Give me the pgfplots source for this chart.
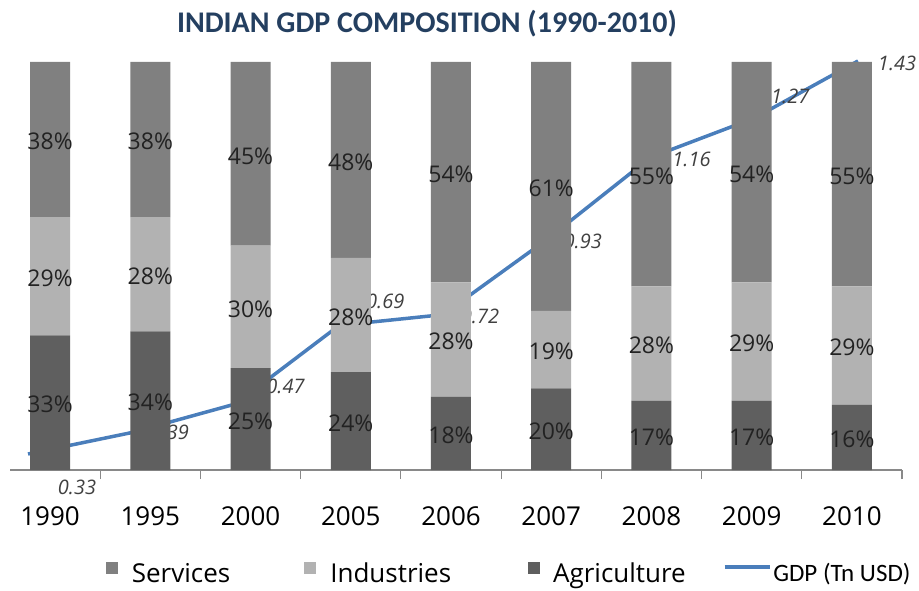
\documentclass[border=0pt]{standalone}
\usepackage{fontspec}
\usepackage{pgfplots}
\usepackage{pgfplotstable}
\pgfplotsset{compat=1.18}
\setmainfont{Open Sans}
\newfontfamily\carlito{Carlito}

\definecolor{services}{HTML}{808080}
\definecolor{industries}{HTML}{B2B2B2}
\definecolor{agri}{HTML}{5F5F5F}
\definecolor{axisgray}{HTML}{898989}
\definecolor{gdpblue}{HTML}{4A7EBB}
\definecolor{titleblue}{HTML}{243F60}
\definecolor{labeltext}{HTML}{222222}
\definecolor{gdptext}{HTML}{404040}

% sector shares of GDP, per cent
\pgfplotstableread{
idx agri ind serv
0 33 29 38
1 34 28 38
2 25 30 45
3 24 28 48
4 18 28 54
5 20 19 61
6 17 28 55
7 17 29 54
8 16 29 55
}\shares

% GDP in trillion USD, with label offsets (pt)
\pgfplotstableread{
idx gdp dx dy
0 0.33 49 -33
1 0.39 38 0
2 0.47 50 18
3 0.69 46 24
4 0.72 37 -2
5 0.93 36 -2
6 1.16 41 -2
7 1.27 36 22
8 1.43 39 -2
}\gdpdata

\pgfplotsset{
  sqlegend/.style={legend image code/.code={\fill[##1] (0pt,-1pt) rectangle (12pt,11pt);}},
}

\begin{document}
\begin{tikzpicture}
% GDP line on its own scale, drawn first so the bars sit over it
\begin{axis}[
  at={(10pt,120pt)}, anchor=south west,
  width=892pt, height=408pt, scale only axis,
  xmin=-0.1735, xmax=8.424, ymin=0.2852, ymax=1.4271,
  hide axis, clip=false,
]
\addplot[gdpblue, line width=3.5pt, no markers,
  point meta=explicit,
  visualization depends on={\thisrow{dx}\as\lblx},
  visualization depends on={\thisrow{dy}\as\lbly},
  nodes near coords={\pgfmathprintnumber[fixed,fixed zerofill,precision=2,assume math mode=true]{\pgfplotspointmeta}},
  every node near coord/.append style={anchor=center, xshift={\lblx}, yshift={\lbly},
    font=\itshape\fontsize{20}{20}\selectfont, text=gdptext},
] table[x=idx, y=gdp, meta=gdp] {\gdpdata};
\end{axis}

% stacked shares; labels sit in the middle of each segment
\begin{axis}[
  at={(10pt,120pt)}, anchor=south west,
  width=892pt, height=408pt, scale only axis,
  ybar stacked, bar width=40pt,
  xmin=-0.4, xmax=8.5, ymin=0, ymax=100,
  axis x line=bottom, axis y line=none,
  axis line style={draw=axisgray, line width=1.2pt, -},
  xtick={0,...,8},
  xticklabels={1990,1995,2000,2005,2006,2007,2008,2009,2010},
  major tick length=0pt,
  xticklabel style={font=\fontsize{26}{26}\selectfont, anchor=base, yshift=-55pt, text=black},
  extra x ticks={0.5,1.5,...,8.5},
  extra x tick labels={},
  extra x tick style={major tick length=9pt, tick align=outside, tick style={draw=axisgray, line width=1.2pt}},
  clip=false,
  point meta=explicit,
  nodes near coords={\pgfmathprintnumber[assume math mode=true]{\pgfplotspointmeta}\%},
  every node near coord/.append style={anchor=center, yshift=-2pt,
    font=\fontsize{23}{23}\selectfont, text=labeltext},
  reverse legend,
  legend columns=4,
  legend style={at={(0.5585,-0.2525)}, anchor=center, draw=none, fill=none,
    font=\fontsize{26}{26}\selectfont, inner sep=0pt,
    nodes={inner sep=0pt},
    /tikz/column 1/.style={column sep=14pt},
    /tikz/column 2/.style={column sep=74pt},
    /tikz/column 3/.style={column sep=14pt},
    /tikz/column 4/.style={column sep=77pt},
    /tikz/column 5/.style={column sep=13pt},
    /tikz/column 6/.style={column sep=37pt},
    /tikz/column 7/.style={column sep=2pt}},
]
\addlegendimage{legend image code/.code={\draw[gdpblue, line width=3.5pt] (0pt,6pt) -- (45pt,6pt);}}
\addlegendentry{{\carlito\fontsize{25}{25}\selectfont GDP (Tn USD)}}
\addplot[fill=agri, draw=none, sqlegend]
  table[x=idx, y=agri, meta=agri] {\shares};
\addlegendentry{Agriculture}
\addplot[fill=industries, draw=none, sqlegend]
  table[x=idx, y=ind, meta=ind] {\shares};
\addlegendentry{Industries}
\addplot[fill=services, draw=none, sqlegend]
  table[x=idx, y=serv, meta=serv] {\shares};
\addlegendentry{Services}
\end{axis}

\node[anchor=base, font=\carlito\bfseries\fontsize{30}{30}\selectfont, text=titleblue]
  at (427pt,557pt) {INDIAN GDP COMPOSITION (1990-2010)};

\pgfresetboundingbox
\path[use as bounding box] (0,0) rectangle (919pt,590pt);
\end{tikzpicture}
\end{document}
